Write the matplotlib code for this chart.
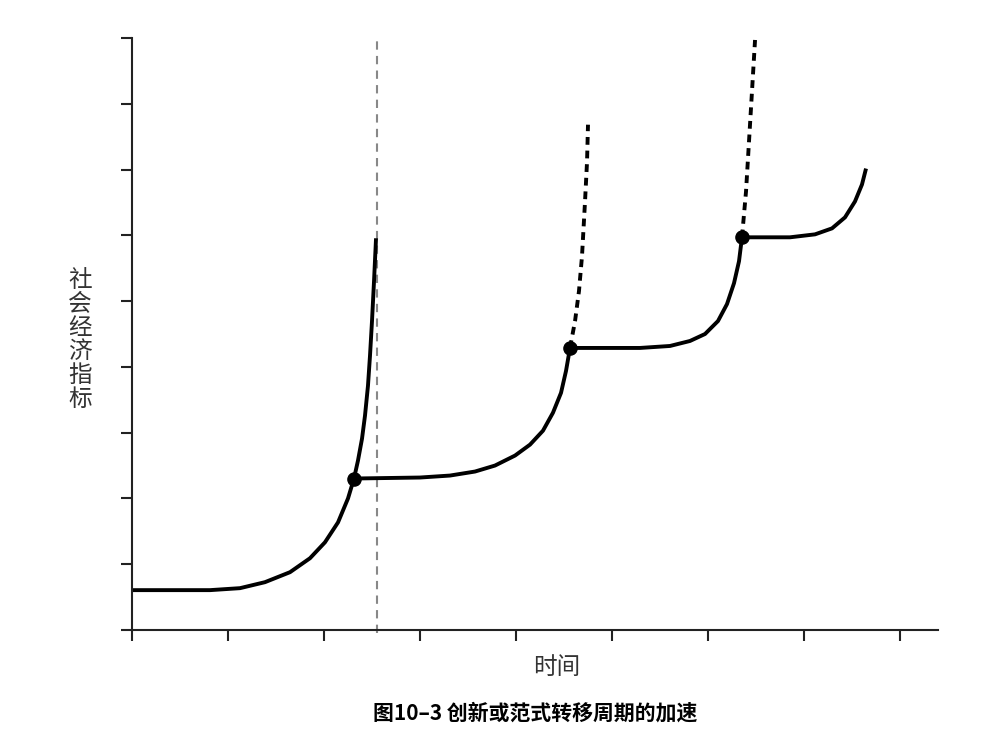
import matplotlib
matplotlib.use("Agg")
import matplotlib.pyplot as plt

plt.rcParams["font.family"] = ["Noto Sans CJK SC", "DejaVu Sans"]

# schematic curves, x and y in tick units
curve1_x = [0.0, 0.8125, 1.125, 1.385, 1.646, 1.854, 2.010, 2.146, 2.25, 2.3125,
            2.354, 2.396, 2.427, 2.458, 2.479, 2.5, 2.521, 2.542]
curve1_y = [0.606, 0.606, 0.636, 0.727, 0.879, 1.091, 1.333, 1.636, 2.0, 2.303,
            2.576, 2.909, 3.258, 3.712, 4.167, 4.697, 5.303, 5.955]
curve2_x = [2.3125, 3.0, 3.3125, 3.573, 3.781, 3.990, 4.146, 4.281, 4.385, 4.469, 4.521, 4.5625]
curve2_y = [2.303, 2.318, 2.348, 2.409, 2.5, 2.652, 2.818, 3.030, 3.303, 3.606, 3.939, 4.288]
dash2_x = [4.5625, 4.615, 4.656, 4.6875, 4.719, 4.740, 4.75]
dash2_y = [4.288, 4.697, 5.152, 5.682, 6.515, 7.121, 7.682]
curve3_x = [4.5625, 5.292, 5.604, 5.8125, 5.969, 6.104, 6.198, 6.271, 6.323, 6.354]
curve3_y = [4.288, 4.288, 4.318, 4.394, 4.5, 4.697, 4.955, 5.273, 5.606, 5.970]
dash3_x = [6.354, 6.396, 6.427, 6.458, 6.49]
dash3_y = [5.97, 6.667, 7.424, 8.182, 8.97]
curve4_x = [6.354, 6.854, 7.115, 7.292, 7.427, 7.531, 7.604, 7.646]
curve4_y = [5.97, 5.97, 6.015, 6.106, 6.273, 6.515, 6.773, 7.015]
dots_x = [2.3125, 4.5625, 6.354]
dots_y = [2.303, 4.288, 5.97]
vline_x = 2.55

fig = plt.figure(figsize=(10.01, 7.47), dpi=100)
ax = fig.add_axes([132 / 1001, 117 / 747, 806 / 1001, 592 / 747])

ax.axvline(vline_x, ymin=-0.005, color="#888888", linestyle=(0, (4, 3)), linewidth=1.5, clip_on=False)
for xs, ys in [(curve1_x, curve1_y), (curve2_x, curve2_y), (curve3_x, curve3_y), (curve4_x, curve4_y)]:
    ax.plot(xs, ys, color="black", linewidth=2.8, solid_capstyle="butt", solid_joinstyle="round")
for xs, ys in [(dash2_x, dash2_y), (dash3_x, dash3_y)]:
    ax.plot(xs, ys, color="black", linewidth=2.8, linestyle=(0, (2, 1.5)), dash_joinstyle="round")
ax.scatter(dots_x, dots_y, s=90, color="black", zorder=5)

ax.set_xlim(0, 806 / 96)
ax.set_ylim(0, 9)
ax.set_xticks(range(0, 9))
ax.set_yticks(range(0, 10))
ax.set_xticklabels([])
ax.set_yticklabels([])
ax.tick_params(direction="out", length=8, width=1.5, color="#222222")
for s in ["top", "right"]:
    ax.spines[s].set_visible(False)
for s in ["left", "bottom"]:
    ax.spines[s].set_linewidth(1.5)
    ax.spines[s].set_color("#222222")

fig.text(80 / 1001, 1 - 340 / 747, "社\n会\n经\n济\n指\n标", ha="center", va="center",
         fontsize=17, linespacing=1.05, color="#333333")
fig.text(557 / 1001, 1 - 668 / 747, "时间", ha="center", va="center", fontsize=17, color="#333333")
fig.text(535 / 1001, 1 - 713 / 747, "图10–3 创新或范式转移周期的加速", ha="center", va="center",
         fontsize=15, fontweight="bold")

fig.savefig("out.png", dpi=100)
